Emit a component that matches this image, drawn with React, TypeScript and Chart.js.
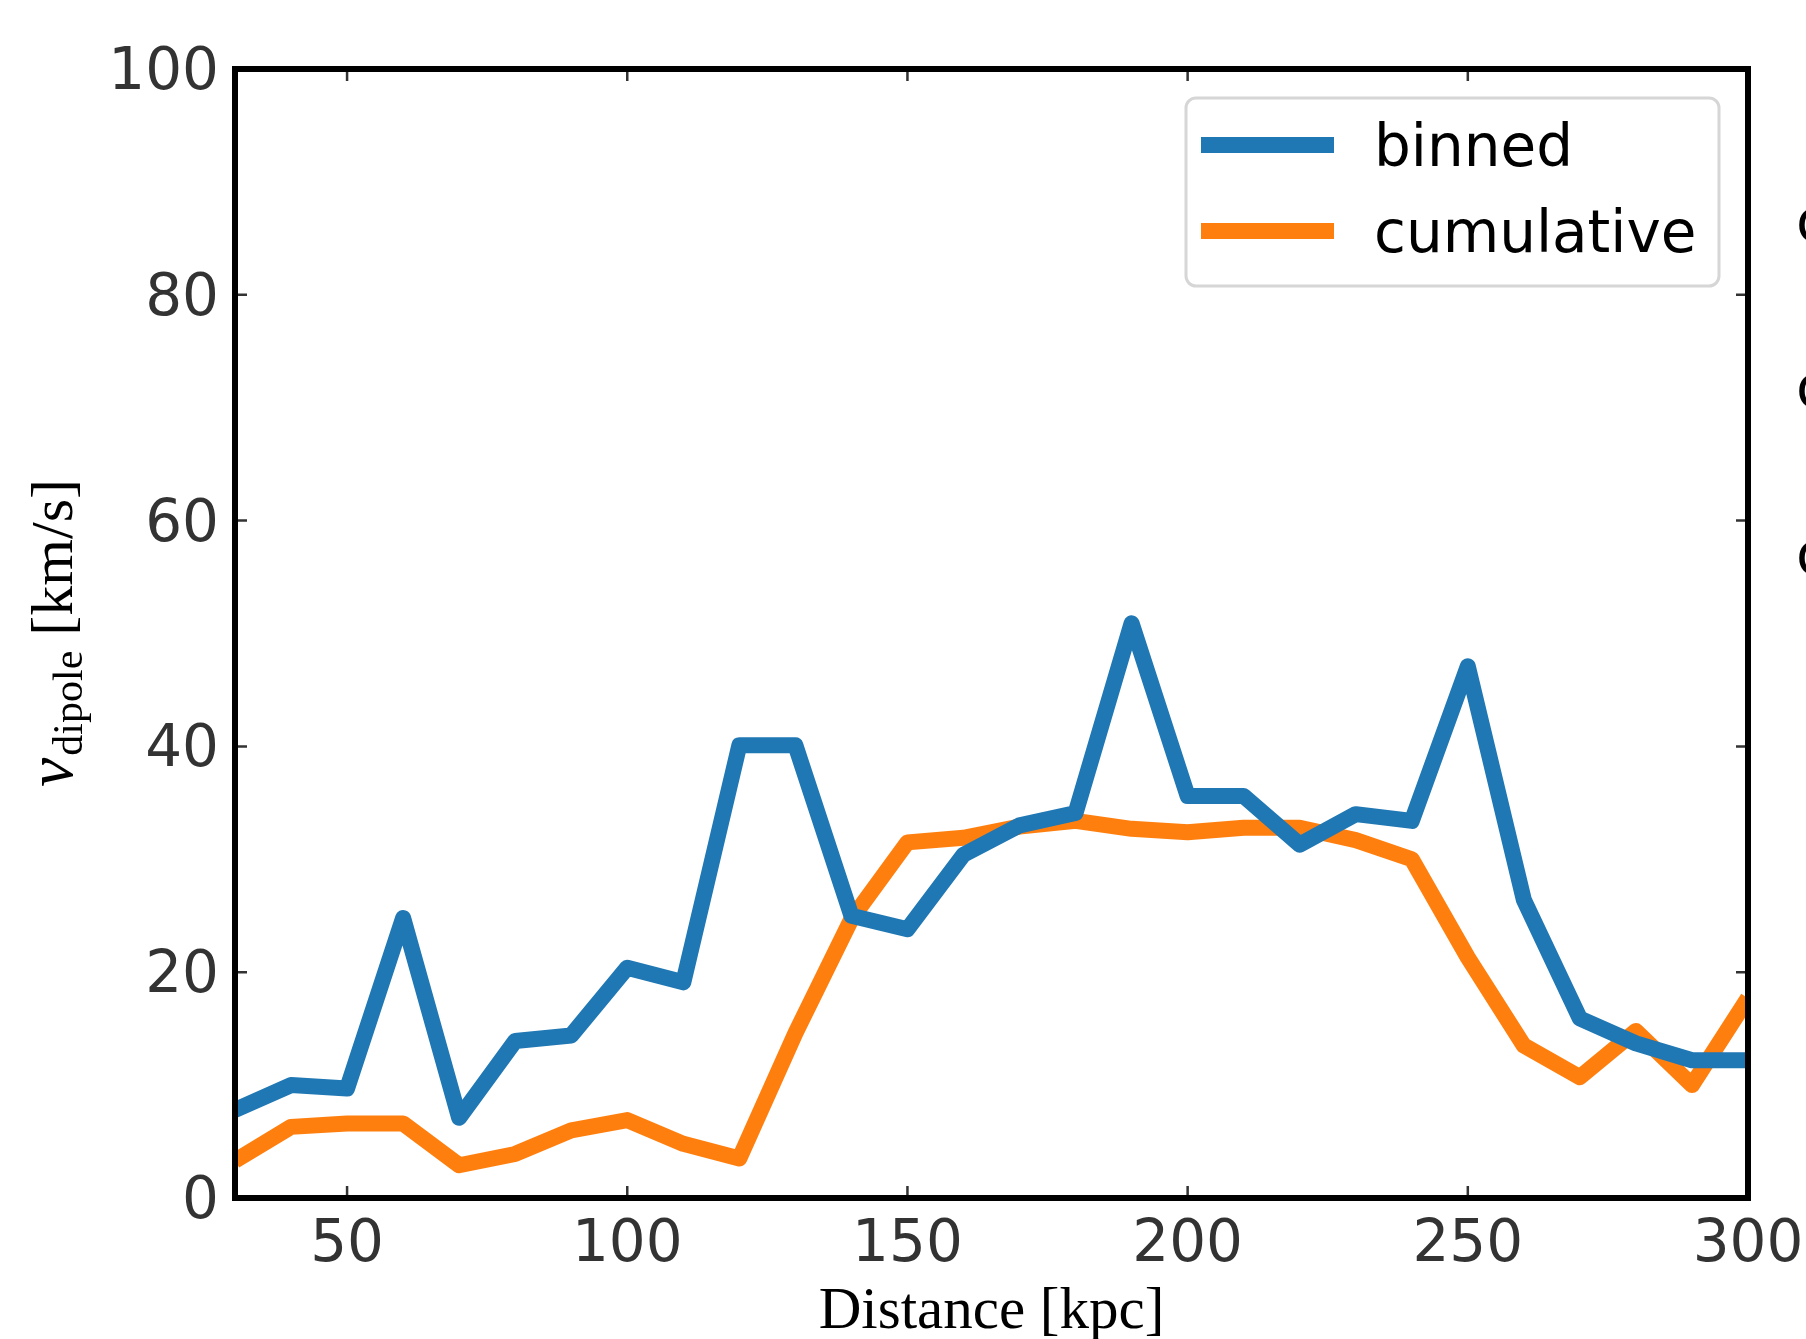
import React, { useEffect, useRef } from "react";
import { Chart, registerables } from "chart.js";

Chart.register(...registerables);

const distances = [30, 40, 50, 60, 70, 80, 90, 100, 110, 120, 130, 140, 150, 160, 170, 180, 190, 200, 210, 220, 230, 240, 250, 260, 270, 280, 290, 300];
const binned = [7.8, 10.0, 9.7, 24.8, 7.1, 13.9, 14.4, 20.4, 19.1, 40.1, 40.1, 25.0, 23.8, 30.4, 33.0, 34.1, 50.9, 35.6, 35.6, 31.3, 34.0, 33.4, 47.1, 26.4, 15.9, 13.7, 12.2, 12.2];
const cumulative = [3.3, 6.3, 6.6, 6.6, 2.9, 3.9, 6.0, 6.9, 4.8, 3.5, 14.6, 24.7, 31.5, 31.9, 32.9, 33.4, 32.7, 32.4, 32.8, 32.8, 31.7, 30.0, 21.3, 13.5, 10.7, 14.8, 10.0, 17.7];
const xTicks = [50, 100, 150, 200, 250, 300];
const yTicks = [0, 20, 40, 60, 80, 100];
const seriesNames = ["binned", "cumulative"];
const seriesColors = ["#1f77b4", "#ff7f0e"];
const xTitle = "Distance [kpc]";

const W = 1806;
const H = 1339;

const decorPlugin = {
  id: "decor",
  afterDraw(chart: any) {
    const ctx = chart.ctx;
    const { left, right, top, bottom } = chart.chartArea;
    const xs = chart.scales.x;
    const ys = chart.scales.y;
    ctx.save();
    // inward ticks on all four sides
    ctx.strokeStyle = "#333333";
    ctx.lineWidth = 2.5;
    const tl = 12;
    ctx.beginPath();
    xTicks.forEach((v) => {
      const px = xs.getPixelForValue(v);
      ctx.moveTo(px, bottom);
      ctx.lineTo(px, bottom - tl);
      ctx.moveTo(px, top);
      ctx.lineTo(px, top + tl);
    });
    yTicks.forEach((v) => {
      const py = ys.getPixelForValue(v);
      ctx.moveTo(left, py);
      ctx.lineTo(left + tl, py);
      ctx.moveTo(right, py);
      ctx.lineTo(right - tl, py);
    });
    ctx.stroke();
    // frame
    ctx.strokeStyle = "#000000";
    ctx.lineWidth = 6;
    ctx.strokeRect(left, top, right - left, bottom - top);

    // legend
    const lx0 = 1186, ly0 = 98, lx1 = 1719, ly1 = 286, r = 10;
    ctx.beginPath();
    ctx.moveTo(lx0 + r, ly0);
    ctx.lineTo(lx1 - r, ly0);
    ctx.arcTo(lx1, ly0, lx1, ly0 + r, r);
    ctx.lineTo(lx1, ly1 - r);
    ctx.arcTo(lx1, ly1, lx1 - r, ly1, r);
    ctx.lineTo(lx0 + r, ly1);
    ctx.arcTo(lx0, ly1, lx0, ly1 - r, r);
    ctx.lineTo(lx0, ly0 + r);
    ctx.arcTo(lx0, ly0, lx0 + r, ly0, r);
    ctx.closePath();
    ctx.fillStyle = "rgba(255,255,255,0.8)";
    ctx.fill();
    ctx.strokeStyle = "#d6d6d6";
    ctx.lineWidth = 3;
    ctx.stroke();
    const rows = [145, 231];
    seriesNames.forEach((name, i) => {
      ctx.strokeStyle = seriesColors[i];
      ctx.lineWidth = 16;
      ctx.lineCap = "butt";
      ctx.beginPath();
      ctx.moveTo(1201, rows[i]);
      ctx.lineTo(1334, rows[i]);
      ctx.stroke();
      ctx.fillStyle = "#000000";
      ctx.font = "58px 'DejaVu Sans'";
      ctx.textAlign = "left";
      ctx.textBaseline = "alphabetic";
      ctx.fillText(name, 1374, rows[i] + 21);
    });

    // x axis title
    ctx.fillStyle = "#000000";
    ctx.font = "59px 'Liberation Serif'";
    ctx.textAlign = "center";
    ctx.textBaseline = "alphabetic";
    ctx.fillText(xTitle, (left + right) / 2, 1328);

    // y axis title with subscript
    ctx.save();
    ctx.translate(72, 634);
    ctx.rotate(-Math.PI / 2);
    ctx.textAlign = "left";
    const mainFont = "60px 'Liberation Serif'";
    const italicFont = "italic 66px 'Liberation Serif'";
    const subFont = "42px 'Liberation Serif'";
    ctx.font = italicFont;
    const wv = ctx.measureText("v").width;
    ctx.font = subFont;
    const wsub = ctx.measureText("dipole").width;
    ctx.font = mainFont;
    const wrest = ctx.measureText(" [km/s]").width;
    const total = wv + wsub + wrest;
    let cx = -total / 2;
    ctx.font = italicFont;
    ctx.fillText("v", cx, 0);
    cx += wv + 2;
    ctx.font = subFont;
    ctx.fillText("dipole", cx, 10);
    cx += wsub;
    ctx.font = mainFont;
    ctx.fillText(" [km/s]", cx, 0);
    ctx.restore();

    // partial glyphs cut off at the right edge
    ctx.fillStyle = "#000000";
    ctx.font = "58px 'DejaVu Sans'";
    ctx.textAlign = "left";
    ctx.textBaseline = "middle";
    [226, 392, 559].forEach((y) => ctx.fillText("c", 1796, y));
    ctx.restore();
  },
};

export default function App() {
  const ref = useRef<HTMLCanvasElement | null>(null);
  useEffect(() => {
    if (!ref.current) return;
    const chart = new Chart(ref.current, {
      type: "line",
      data: {
        datasets: [
          {
            label: seriesNames[0],
            data: distances.map((d, i) => ({ x: d, y: binned[i] })),
            borderColor: seriesColors[0],
            backgroundColor: seriesColors[0],
            borderWidth: 16,
            pointRadius: 0,
            borderJoinStyle: "round",
            borderCapStyle: "butt",
            tension: 0,
            clip: 0,
          },
          {
            label: seriesNames[1],
            data: distances.map((d, i) => ({ x: d, y: cumulative[i] })),
            borderColor: seriesColors[1],
            backgroundColor: seriesColors[1],
            borderWidth: 16,
            pointRadius: 0,
            borderJoinStyle: "round",
            borderCapStyle: "butt",
            tension: 0,
            clip: 0,
          },
        ],
      },
      options: {
        responsive: false,
        animation: false,
        events: [],
        layout: { padding: { left: 0, right: 58, top: 69, bottom: 0 } },
        plugins: { legend: { display: false }, tooltip: { enabled: false } },
        scales: {
          x: {
            type: "linear",
            min: 30,
            max: 300,
            grid: { display: false, drawTicks: false },
            border: { display: false },
            afterBuildTicks: (s: any) => {
              s.ticks = xTicks.map((v) => ({ value: v }));
            },
            afterFit: (s: any) => {
              s.height = 141;
              s.paddingLeft = 0;
              s.paddingRight = 0;
            },
            ticks: {
              padding: 13,
              maxRotation: 0,
              autoSkip: false,
              color: "#333333",
              font: { family: "'DejaVu Sans'", size: 58 },
            },
          },
          y: {
            type: "linear",
            min: 0,
            max: 100,
            grid: { display: false, drawTicks: false },
            border: { display: false },
            afterBuildTicks: (s: any) => {
              s.ticks = yTicks.map((v) => ({ value: v }));
            },
            afterFit: (s: any) => {
              s.width = 235;
              s.paddingTop = 0;
              s.paddingBottom = 0;
            },
            ticks: {
              padding: 16,
              labelOffset: 5,
              autoSkip: false,
              color: "#333333",
              font: { family: "'DejaVu Sans'", size: 58 },
            },
          },
        },
      },
      plugins: [decorPlugin],
    });
    return () => chart.destroy();
  }, []);
  return (
    <div style={{ position: "absolute", left: 0, top: 0, width: W, height: H, background: "#ffffff" }}>
      <canvas ref={ref} width={W} height={H} style={{ display: "block", width: W, height: H }} />
    </div>
  );
}
